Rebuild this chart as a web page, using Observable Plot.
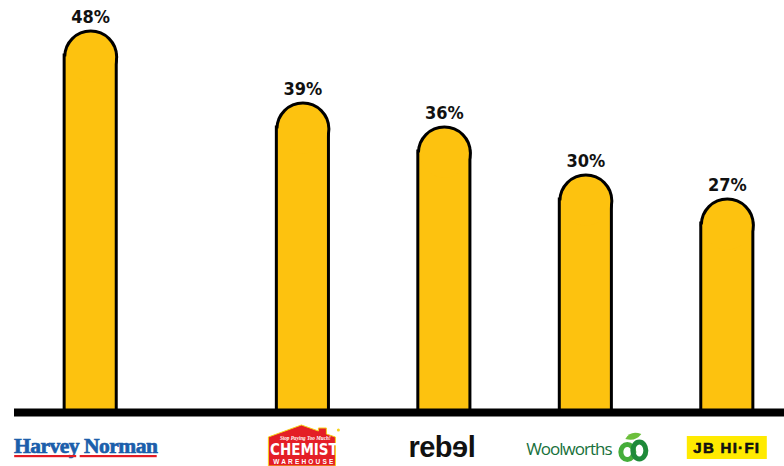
<!DOCTYPE html>
<html><head><meta charset="utf-8">
<script src="https://cdn.jsdelivr.net/npm/d3@7"></script>
<script src="https://cdn.jsdelivr.net/npm/@observablehq/plot@0.6"></script>
<style>body{margin:0;background:#fff;overflow:hidden} .pct text{font-stretch:condensed}</style>
</head><body><div id="chart"></div>
<script>
// ---- data ----
const brands = ["Harvey Norman", "Chemist Warehouse", "rebel", "Woolworths", "JB Hi-Fi"];
const shares = [48, 39, 36, 30, 27];
const shareLabels = ["48%", "39%", "36%", "30%", "27%"];
// x slots (spacers keep the original uneven spacing)
const slots = ["Harvey Norman", "_s1", "_s2", "Chemist Warehouse", "_s3", "rebel", "_s4", "Woolworths", "_s5", "JB Hi-Fi"];

const data = brands.map((b, i) => ({brand: b, share: shares[i], label: shareLabels[i]}));

const YELLOW = "#fdc20f";
const R = 24.5;

function logos(index, scales) {
  const x = scales.x;
  const bw = x.bandwidth ? x.bandwidth() : 0;
  const cx = b => x(b) + bw / 2;
  const g = d3.create("svg:g");

  // Harvey Norman
  let c = cx("Harvey Norman") - 4.5;
  g.append("text").attr("x", c).attr("y", 453).attr("text-anchor", "middle")
    .attr("font-family", "Liberation Serif, serif").attr("font-weight", "bold")
    .attr("font-size", 21.5).attr("letter-spacing", -0.5).attr("fill", "#1b5eab")
    .attr("stroke", "#1b5eab").attr("stroke-width", 0.7).text("Harvey Norman");
  g.append("rect").attr("x", c - 71.5).attr("y", 455).attr("width", 62).attr("height", 2.2).attr("fill", "#e31b23");
  g.append("rect").attr("x", c - 6).attr("y", 455).attr("width", 77).attr("height", 2.2).attr("fill", "#e31b23");

  // Chemist Warehouse
  c = cx("Chemist Warehouse");
  const o = c - 306;
  const pts = [[272,466],[272,437],[305,425],[322,431],[322,428],[330,428],[330,434],[339,437],[339,466]]
    .map(([a, b]) => [a + o, b]);
  g.append("path").attr("d", "M" + pts.join("L") + "Z").attr("fill", "#e41e26")
    .attr("stroke", "#f6d21a").attr("stroke-width", 1);
  g.append("circle").attr("cx", 342 + o).attr("cy", 430).attr("r", 1.5).attr("fill", "#f6d21a");
  g.append("text").attr("x", 309 + o).attr("y", 439.5).attr("text-anchor", "middle")
    .attr("font-family", "Liberation Serif, serif").attr("font-weight", "bold").attr("font-style", "italic")
    .attr("font-size", 5.2).attr("fill", "#fff").text("Stop Paying Too Much!");
  g.append("text").attr("x", 307.5 + o).attr("y", 454.5).attr("text-anchor", "middle")
    .attr("font-family", "DejaVu Sans Condensed, DejaVu Sans, sans-serif").attr("font-weight", "bold")
    .attr("font-stretch", "condensed")
    .attr("font-size", 15).attr("letter-spacing", 0).attr("fill", "#fff").text("CHEMIST");
  g.append("text").attr("x", 308 + o).attr("y", 463.5).attr("text-anchor", "middle")
    .attr("font-family", "Liberation Sans, sans-serif").attr("font-weight", "bold")
    .attr("font-size", 6.5).attr("letter-spacing", 2.2).attr("fill", "#fff").text("WAREHOUSE");

  // rebel
  c = cx("rebel") - 2;
  g.append("text").attr("x", c).attr("y", 457).attr("text-anchor", "middle")
    .attr("font-family", "Liberation Sans, sans-serif").attr("font-weight", "bold")
    .attr("font-size", 29).attr("letter-spacing", -0.5).attr("fill", "#111").text("reb\u0258l");

  // Woolworths
  c = cx("Woolworths");
  const w = c - 586;
  g.append("text").attr("x", 569.5 + w).attr("y", 455).attr("text-anchor", "middle")
    .attr("font-family", "Open Sans, sans-serif").attr("font-weight", 400)
    .attr("font-size", 17).attr("letter-spacing", -1).attr("fill", "#17703a").text("Woolworths");
  g.append("ellipse").attr("cx", 628 + w).attr("cy", 452).attr("rx", 6.5).attr("ry", 7.5)
    .attr("fill", "none").attr("stroke", "#45ad3a").attr("stroke-width", 5);
  g.append("ellipse").attr("cx", 640 + w).attr("cy", 450.5).attr("rx", 6.5).attr("ry", 8.5)
    .attr("fill", "none").attr("stroke", "#1f8a3a").attr("stroke-width", 5);
  g.append("path").attr("d", `M${626 + w},439 Q${631 + w},430 ${642 + w},434 Q${636 + w},442 ${626 + w},439Z`)
    .attr("fill", "#6cbf3b");

  // JB Hi-Fi
  c = cx("JB Hi-Fi");
  g.append("rect").attr("x", c - 40).attr("y", 436).attr("width", 80).attr("height", 23).attr("fill", "#ffea00");
  g.append("text").attr("x", c).attr("y", 453).attr("text-anchor", "middle")
    .attr("font-family", "Liberation Sans, sans-serif").attr("font-weight", "bold")
    .attr("font-size", 15).attr("letter-spacing", 1.3).attr("fill", "#111")
    .attr("stroke", "#111").attr("stroke-width", 0.6).text("JB HI\u00b7FI");

  return g.node();
}

const chart = Plot.plot({
  width: 784,
  height: 466,
  marginTop: 32,
  marginBottom: 50,
  marginLeft: 44,
  marginRight: 11,
  x: {type: "band", domain: slots, padding: 0.306, round: false, axis: null},
  y: {domain: [0, 48], axis: null},
  marks: [
    Plot.barY(data, {x: "brand", y: "share", insetTop: R, insetBottom: 4, fill: "none", stroke: "#000", strokeWidth: 6}),
    Plot.dot(data, {x: "brand", y: "share", dy: R, r: R, fill: "none", stroke: "#000", strokeWidth: 6}),
    Plot.barY(data, {x: "brand", y: "share", insetTop: R, insetBottom: 4, fill: YELLOW}),
    Plot.dot(data, {x: "brand", y: "share", dy: R, r: R, fill: YELLOW, stroke: null}),
    Plot.ruleY([0], {stroke: "#000", strokeWidth: 8, dy: -4, insetLeft: -30, insetRight: -11}),
    Plot.text(data, {x: "brand", y: "share", text: "label", dy: -15, fontSize: 18, fontWeight: "bold",
      className: "pct", fontFamily: "DejaVu Sans Condensed, DejaVu Sans, sans-serif", fill: "#111"}),
    logos
  ]
});
document.getElementById("chart").appendChild(chart);
</script>
</body></html>
